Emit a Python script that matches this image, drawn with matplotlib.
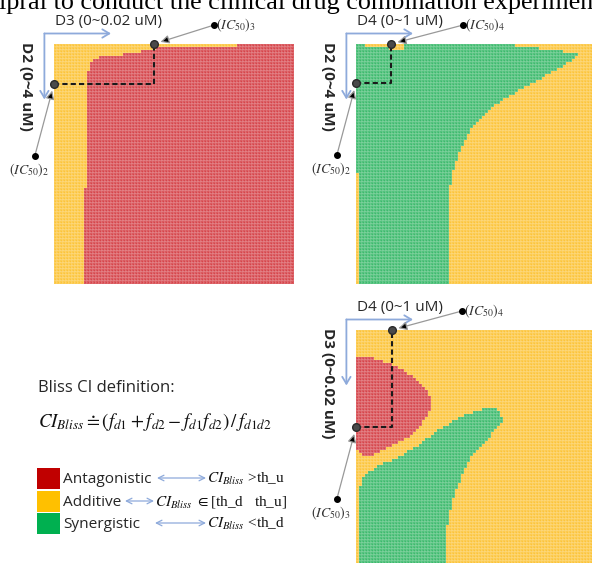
import numpy as np
import matplotlib
matplotlib.use('Agg')
import matplotlib.pyplot as plt
from matplotlib.colors import ListedColormap
from matplotlib.patches import Rectangle

plt.rcParams['mathtext.fontset'] = 'stix'

# ---------------- data ----------------
categories = ['Additive', 'Antagonistic', 'Synergistic']          # codes 0,1,2
map_colors = ['#FCC43A', '#D6454B', '#3DBA6D']
legend_names = ['Antagonistic', 'Additive', 'Synergistic']
legend_colors = ['#C00000', '#FFC000', '#00B050']
N = 80   # grid cells per dose axis

# Panel 1 (D2 rows x D3 cols): first antagonistic row in each column
p1_red_top = [80]*10 + [48, 9, 6, 5, 5, 4, 4] + [4]*6 + [3]*6 + [2]*5 + [1]*27 + [0]*19
p1_ic50 = (33.3, 13.3)      # (IC50)_3 column, (IC50)_2 row

# Panel 2 (D2 rows x D4 cols): synergistic columns per row  [left, right)
p2_green_left = [0]*43 + [1]*37
p2_green_right = [53, 61, 69, 74, 73, 72, 70, 69, 67, 65,
                  63, 62, 60, 58, 56, 54, 53, 51, 49, 48,
                  46, 45, 44, 43, 42, 41, 40, 39, 38, 38,
                  37, 37, 36, 36, 35, 35, 34, 34, 34, 33,
                  33, 33, 32, 32, 32, 32, 32] + [31]*33
p2_top_add_rows = [0, 1]
p2_top_add_start = [3, 11]
p2_top_add_end = [16, 16]
p2_ic50 = (11.6, 13.1)

# Panel 3 (D3 rows x D4 cols)
p3_red_row0 = 9
p3_red_left = [0]*31 + [1, 2]
p3_red_right = [6, 9, 12, 14, 16, 17, 19, 20, 21, 22,
                23, 24, 24, 25, 25, 25, 25, 25, 24, 24,
                23, 22, 22, 21, 20, 19, 18, 16, 14, 12,
                10, 8, 6]
p3_green_row0 = 26
p3_green_left = [42, 39, 36, 34, 32, 31, 29, 27, 26, 25,
                 23, 22, 21, 19, 17, 16, 14, 12, 9, 7,
                 6, 4, 3, 2, 2, 2] + [1]*28
p3_green_right = [47, 48, 48, 49, 49, 48, 47, 46, 45, 45,
                  44, 43, 42, 41, 40, 39, 38, 38, 37, 37,
                  36, 36, 35, 35, 35, 34, 34, 33, 33, 33,
                  32, 32, 32, 32, 31, 31, 31, 31, 31] + [30]*15
p3_ic50 = (11.9, 32.4)

# ---------------- build grids ----------------
M1 = np.zeros((N, N), int)
for c, t in enumerate(p1_red_top):
    M1[t:, c] = 1

M2 = np.zeros((N, N), int)
for r in range(N):
    M2[r, p2_green_left[r]:p2_green_right[r]] = 2
for r, a, b in zip(p2_top_add_rows, p2_top_add_start, p2_top_add_end):
    M2[r, a:b] = 0

M3 = np.zeros((N, N), int)
for i, (a, b) in enumerate(zip(p3_red_left, p3_red_right)):
    M3[p3_red_row0 + i, a:b] = 1
for i, (a, b) in enumerate(zip(p3_green_left, p3_green_right)):
    M3[p3_green_row0 + i, a:b] = 2

# ---------------- figure ----------------
W, H = 592, 563
fig = plt.figure(figsize=(W/100, H/100), dpi=100)
cmap = ListedColormap(map_colors)
blue = '#8EAADB'
sans = 'Open Sans'
txtc = '#262626'


def panel(left_px, top_px, M):
    ax = fig.add_axes([left_px/W, (H - top_px - 240)/H, 240/W, 240/H])
    ax.pcolormesh(np.arange(N+1), np.arange(N+1), M, cmap=cmap, vmin=-0.5, vmax=2.5,
                  edgecolors=(1, 1, 1, 0.12), linewidth=0.3)
    ax.set_xlim(0, N)
    ax.set_ylim(N, 0)
    ax.axis('off')
    return ax


def decorate(ax, xlabel, ylabel, ic, top_lbl, left_lbl, top_dx):
    c, r = ic
    ax.annotate('', xy=(19, -3.5), xytext=(-3.2, -3.5), annotation_clip=False,
                arrowprops=dict(arrowstyle='->,head_length=0.5,head_width=0.3', color=blue, lw=1.3,
                                shrinkA=0, shrinkB=0))
    ax.annotate('', xy=(-3.2, 18.5), xytext=(-3.2, -3.5), annotation_clip=False,
                arrowprops=dict(arrowstyle='->,head_length=0.5,head_width=0.3', color=blue, lw=1.3,
                                shrinkA=0, shrinkB=0))
    ax.text(0.3, -6.4, xlabel, ha='left', va='baseline', fontsize=11, family=sans, color=txtc,
            clip_on=False)
    ax.text(-9.4, -0.8, ylabel, ha='center', va='top', rotation=-90, fontsize=11,
            family=sans, fontweight='bold', color=txtc, clip_on=False)
    # dashed IC50 guide
    ax.plot([0, c, c], [r, r, 0], ls=(0, (2.5, 1.5)), color='#1a1a1a', lw=1.5, clip_on=False, zorder=4)
    ax.plot([0, c], [r, 0], 'o', ms=5.5, color='#4a4a4a', mec='#2a2a2a', clip_on=False, zorder=5)
    # top label
    tx, ty = c + top_dx, -6.3
    ax.annotate('', xy=(c, 0), xytext=(tx, ty), annotation_clip=False,
                arrowprops=dict(arrowstyle='-|>,head_length=0.5,head_width=0.25', fc='black', ec='#999999',
                                lw=0.9, shrinkA=0, shrinkB=5))
    ax.plot([tx], [ty], 'o', ms=4, color='black', clip_on=False, zorder=5)
    ax.text(tx + 0.8, ty, top_lbl, ha='left', va='center', fontsize=10, color='#333', clip_on=False)
    # left label
    lx, ly = -6.4, r + 24
    ax.annotate('', xy=(0, r), xytext=(lx, ly), annotation_clip=False,
                arrowprops=dict(arrowstyle='-|>,head_length=0.5,head_width=0.25', fc='black', ec='#999999',
                                lw=0.9, shrinkA=0, shrinkB=5))
    ax.plot([lx], [ly], 'o', ms=4, color='black', clip_on=False, zorder=5)
    ax.text(lx - 2.0, ly + 1.8, left_lbl, ha='center', va='top', fontsize=10, color='#333', clip_on=False)


ax1 = panel(54, 44, M1)
decorate(ax1, 'D3 (0~0.02 uM)', 'D2 (0~4 uM)', p1_ic50, r'$(IC_{50})_3$', r'$(IC_{50})_2$', 20)
ax2 = panel(356, 44, M2)
decorate(ax2, 'D4 (0~1 uM)', 'D2 (0~4 uM)', p2_ic50, r'$(IC_{50})_4$', r'$(IC_{50})_2$', 24)
ax3 = panel(356, 330, M3)
decorate(ax3, 'D4 (0~1 uM)', 'D3 (0~0.02 uM)', p3_ic50, r'$(IC_{50})_4$', r'$(IC_{50})_3$', 23.3)

# ---------------- overlay: cut title line, definition, legend ----------------
ov = fig.add_axes([0, 0, 1, 1])
ov.set_xlim(0, W)
ov.set_ylim(H, 0)
ov.axis('off')
ov.patch.set_alpha(0)

ov.text(-1, 9, 'ipral to conduct the clinical drug combination experiments', ha='left',
        va='baseline', fontsize=18.8, family='Liberation Serif', color='black')

ov.text(38, 392, 'Bliss CI definition:', ha='left', va='baseline', fontsize=12, family=sans, color=txtc)
ov.text(38, 427, r'$CI_{Bliss}\doteq(f_{d1}+f_{d2}-f_{d1}f_{d2})\,/\,f_{d1d2}$', ha='left',
        va='baseline', fontsize=13.6, color='#111')

row_y = [483, 506, 528]
arrow_x = [(157, 206), (125, 154), (155, 206)]
expr_x = [207, 155, 207]
exprs = [r'$CI_{Bliss}$ >th_u', r'$CI_{Bliss}$ $\in$[th_d   th_u]', r'$CI_{Bliss}$ <th_d']
for i in range(3):
    ov.add_patch(Rectangle((37, row_y[i] - 15), 23, 21, color=legend_colors[i], lw=0))
    ov.text(63, row_y[i], legend_names[i], ha='left', va='baseline', fontsize=11.1, family=sans, color=txtc)
    ov.annotate('', xy=(arrow_x[i][1], row_y[i] - 5), xytext=(arrow_x[i][0], row_y[i] - 5),
                arrowprops=dict(arrowstyle='<->,head_length=0.4,head_width=0.2', color=blue, lw=0.9,
                                shrinkA=0, shrinkB=0))
    ov.text(expr_x[i], row_y[i], exprs[i], ha='left', va='baseline', fontsize=11,
            family='Liberation Serif', color='#111')

fig.savefig('out.png', dpi=100)
